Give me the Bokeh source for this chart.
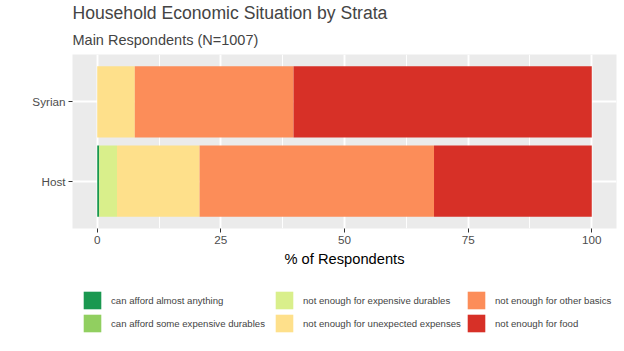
from bokeh.plotting import figure
from bokeh.layouts import column
from bokeh.models import (Range1d, FactorRange, Legend, LegendItem, Title,
                          FixedTicker, ColumnDataSource)
from bokeh.embed import file_html
from bokeh.resources import INLINE

strata = ["Host", "Syrian"]
categories = ["can afford almost anything",
              "can afford some expensive durables",
              "not enough for expensive durables",
              "not enough for unexpected expenses",
              "not enough for other basics",
              "not enough for food"]
host = [0.4, 0.0, 3.6, 16.7, 47.4, 31.9]
syrian = [0.0, 0.0, 0.0, 7.6, 32.1, 60.3]
colors = ["#1A9850", "#91CF60", "#D9EF8B", "#FEE08B", "#FC8D59", "#D73027"]
x_ticks = [0, 25, 50, 75, 100]
x_minor = [12.5, 37.5, 62.5, 87.5]

FONT = "Liberation Sans"

data = {"strata": strata}
for i, c in enumerate(categories):
    data[c] = [host[i], syrian[i]]
source = ColumnDataSource(data)

p = figure(width=624, height=272, output_backend="svg",
           toolbar_location=None,
           x_range=Range1d(-5, 105),
           y_range=FactorRange(factors=strata, range_padding=0.1),
           min_border_left=72, min_border_right=8, min_border_top=54,
           min_border_bottom=44)
p.background_fill_color = "#EBEBEB"
p.border_fill_color = "white"
p.outline_line_color = None

rs = p.hbar_stack(categories, y="strata", height=0.9, color=colors,
                  source=source, line_color=None)

# grid
p.xgrid.ticker = FixedTicker(ticks=x_ticks, minor_ticks=x_minor)
p.xgrid.grid_line_color = "white"
p.xgrid.grid_line_width = 1.9
p.xgrid.minor_grid_line_color = "white"
p.xgrid.minor_grid_line_width = 0.95
p.ygrid.grid_line_color = "white"
p.ygrid.grid_line_width = 1.9

# axes
p.xaxis.ticker = FixedTicker(ticks=x_ticks)
for ax in (p.xaxis[0], p.yaxis[0]):
    ax.axis_line_color = None
    ax.minor_tick_line_color = None
    ax.major_tick_line_color = "#333333"
    ax.major_tick_line_width = 1
    ax.major_tick_out = 4
    ax.major_tick_in = 0
    ax.major_label_text_color = "#4D4D4D"
    ax.major_label_text_font = FONT
    ax.major_label_text_font_size = "11.7px"
    ax.major_label_standoff = 3
p.xaxis.axis_label = "% of Respondents"
p.xaxis.axis_label_text_font = FONT
p.xaxis.axis_label_text_font_size = "14.7px"
p.xaxis.axis_label_text_font_style = "normal"
p.xaxis.axis_label_text_color = "black"
p.xaxis.axis_label_standoff = 4

# titles
p.add_layout(Title(text="Main Respondents (N=1007)", text_font=FONT,
                   text_font_size="14.5px", text_font_style="normal",
                   align="left", standoff=14, offset=0), "above")
p.add_layout(Title(text="Household Economic Situation by Strata", text_font=FONT,
                   text_font_size="17.6px", text_font_style="normal",
                   align="left", standoff=0, offset=0), "above")

# legend panel: a second figure holding only the legend; its proxy
# renderers are hidden so only their legend swatches are drawn
lf = figure(width=624, height=79, output_backend="svg", toolbar_location=None,
            x_range=Range1d(200, 300),
            y_range=FactorRange(factors=strata),
            x_axis_type=None, y_axis_type=None,
            min_border=0)
lf.outline_line_color = None
lf.grid.visible = False
lf.background_fill_color = "white"
lrs = lf.hbar_stack(categories, y="strata", height=0.9, color=colors,
                    source=source, line_color=None)
for r in lrs:
    r.visible = False

order = [0, 2, 4, 1, 3, 5]
items = [LegendItem(label=categories[i], renderers=[lrs[i]]) for i in order]
legend = Legend(items=items, orientation="horizontal", ncols=3,
                glyph_width=22, glyph_height=22, spacing=1,
                label_standoff=8, label_width=161, label_text_font=FONT,
                label_text_font_size="9.6px", padding=0, margin=0,
                border_line_alpha=0, background_fill_alpha=0,
                inactive_fill_alpha=0, click_policy="none",
                location=(9, 17))
lf.add_layout(legend, "center")

layout = column(p, lf, spacing=0)
open("out.html", "w").write(file_html(layout, INLINE))
